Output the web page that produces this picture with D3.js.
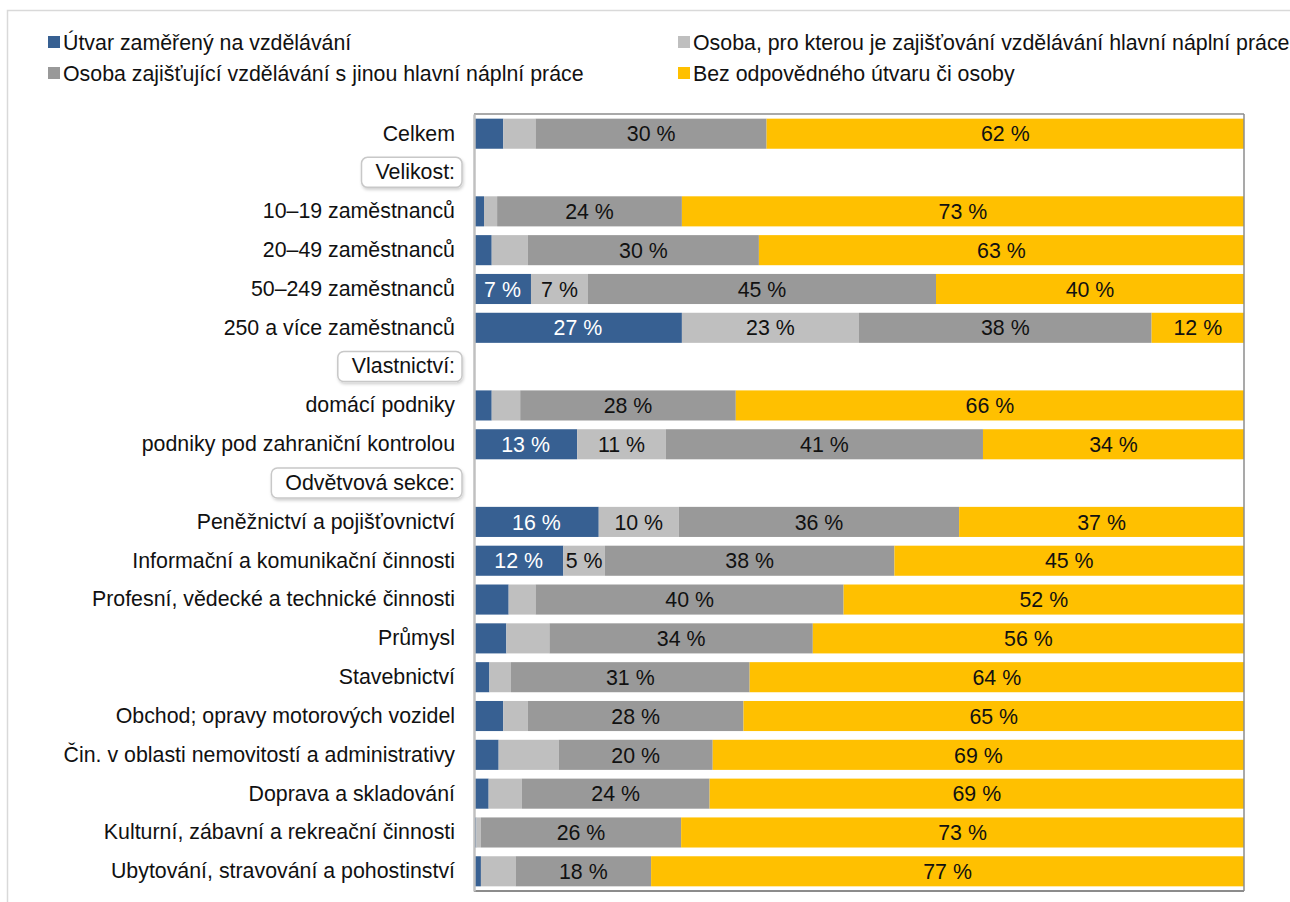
<!DOCTYPE html>
<html lang="cs">
<head>
<meta charset="utf-8">
<script src="https://cdn.jsdelivr.net/npm/d3@7"></script>
<style>
  html, body { margin: 0; padding: 0; background: #fff; }
  svg { display: block; font-family: "Liberation Sans", Arial, sans-serif; }
</style>
</head>
<body>
<svg id="chart" width="1290" height="902"></svg>
<script>
// Row labels; null values mark group header rows
const categories = [
  "Celkem",
  "Velikost:",
  "10–19 zaměstnanců",
  "20–49 zaměstnanců",
  "50–249 zaměstnanců",
  "250 a více zaměstnanců",
  "Vlastnictví:",
  "domácí podniky",
  "podniky pod zahraniční kontrolou",
  "Odvětvová sekce:",
  "Peněžnictví a pojišťovnictví",
  "Informační a komunikační činnosti",
  "Profesní, vědecké a technické činnosti",
  "Průmysl",
  "Stavebnictví",
  "Obchod; opravy motorových vozidel",
  "Čin. v oblasti nemovitostí a administrativy",
  "Doprava a skladování",
  "Kulturní, zábavní a rekreační činnosti",
  "Ubytování, stravování a pohostinství"
];

const seriesNames = [
  "Útvar zaměřený na vzdělávání",
  "Osoba, pro kterou je zajišťování vzdělávání hlavní náplní práce",
  "Osoba zajišťující vzdělávání s jinou hlavní náplní práce",
  "Bez odpovědného útvaru či osoby"
];

const utvar       = [3.8, null, 1.3, 2.3, 7.4, 27, null, 2.3, 13.4, null, 16.2, 11.6, 4.5, 4.2, 2.0, 3.8, 3.2, 1.9, 0.3, 0.9];
const osobaHlavni = [4.2, null, 1.7, 4.7, 7.4, 23, null, 3.7, 11.5, null, 10.4, 5.4, 3.5, 5.6, 2.8, 3.2, 7.8, 4.3, 0.6, 4.5];
const osobaJina   = [30, null, 24, 30, 45.2, 38, null, 28, 41.2, null, 36.4, 37.6, 40, 34.2, 31, 28, 20, 24.4, 26, 17.6];
const bez         = [62, null, 73, 63, 40, 12, null, 66, 33.9, null, 37, 45.4, 52, 56, 64.2, 65, 69, 69.4, 73.1, 77];

// Rows where every segment carries a value label (others label only the two large segments)
const fullyLabelled = [
  "50–249 zaměstnanců",
  "250 a více zaměstnanců",
  "podniky pod zahraniční kontrolou",
  "Peněžnictví a pojišťovnictví",
  "Informační a komunikační činnosti"
];

const colors = ["#376092", "#bfbfbf", "#999999", "#ffc000"];
const textColors = ["#ffffff", "#111111", "#111111", "#111111"];

const seriesValues = [utvar, osobaHlavni, osobaJina, bez];

const svg = d3.select("#chart");
const W = 1290, H = 902;
const FONT = 21.35;

const defs = svg.append("defs");
const shadow = defs.append("filter").attr("id", "boxShadow")
  .attr("x", "-20%").attr("y", "-30%").attr("width", "140%").attr("height", "170%");
shadow.append("feDropShadow").attr("dx", 1).attr("dy", 2).attr("stdDeviation", 1.5)
  .attr("flood-color", "#000").attr("flood-opacity", 0.18);

// outer chart border
svg.append("rect")
  .attr("x", 7.5).attr("y", 10.5).attr("width", W + 20).attr("height", H + 20)
  .attr("fill", "none").attr("stroke", "#d9d9d9").attr("stroke-width", 1.5);

const plot = { left: 474, right: 1244, top: 114, bottom: 891 };

const x = d3.scaleLinear().domain([0, 100]).range([plot.left, plot.right]);
const y = d3.scaleBand().domain(categories).range([plot.top, plot.bottom]).paddingInner(0.225).paddingOuter(0.12);

// stacked data
const rows = categories.map((c, i) => {
  const o = { cat: c };
  seriesValues.forEach((s, k) => { o["s" + k] = s[i]; });
  return o;
}).filter(d => d.s0 !== null);

const stack = d3.stack().keys(["s0", "s1", "s2", "s3"]);
const stacked = stack(rows);

const gBars = svg.append("g");
stacked.forEach((layer, k) => {
  gBars.append("g")
    .selectAll("rect")
    .data(layer)
    .join("rect")
    .attr("x", d => x(d[0]))
    .attr("y", d => y(d.data.cat))
    .attr("width", d => x(d[1]) - x(d[0]))
    .attr("height", y.bandwidth())
    .attr("fill", colors[k]);
});

// value labels
stacked.forEach((layer, k) => {
  const data = layer.filter(d => k >= 2 || fullyLabelled.includes(d.data.cat));
  gBars.append("g")
    .selectAll("text")
    .data(data)
    .join("text")
    .attr("x", d => (x(d[0]) + x(d[1])) / 2)
    .attr("y", d => y(d.data.cat) + y.bandwidth() / 2)
    .attr("dy", "0.36em")
    .attr("text-anchor", "middle")
    .attr("font-size", FONT)
    .attr("fill", textColors[k])
    .text(d => Math.round(d[1] - d[0]) + " %");
});

// plot frame
svg.append("line")
  .attr("x1", plot.left).attr("x2", plot.right).attr("y1", plot.top).attr("y2", plot.top)
  .attr("stroke", "#8c8c8c").attr("stroke-width", 1.5);
svg.append("line")
  .attr("x1", plot.right).attr("x2", plot.right).attr("y1", plot.top).attr("y2", plot.bottom)
  .attr("stroke", "#8c8c8c").attr("stroke-width", 1.5);
svg.append("line")
  .attr("x1", plot.left).attr("x2", plot.right).attr("y1", plot.bottom).attr("y2", plot.bottom)
  .attr("stroke", "#8c8c8c").attr("stroke-width", 2);

// category axis
const yAxis = d3.axisLeft(y).tickSize(0).tickPadding(19);
const gy = svg.append("g").attr("transform", `translate(${plot.left},0)`).call(yAxis);
gy.select(".domain").attr("stroke", "#c0c0c0").attr("stroke-width", 2.5);
gy.selectAll(".tick text")
  .attr("font-size", FONT)
  .attr("font-family", "'Liberation Sans', Arial, sans-serif")
  .attr("fill", "#111");

// boxes behind group headers
const headers = categories.filter((c, i) => utvar[i] === null);
gy.selectAll(".tick").filter(d => headers.includes(d)).each(function () {
  const t = d3.select(this).select("text");
  const bb = t.node().getBBox();
  d3.select(this).insert("rect", "text")
    .attr("x", bb.x - 14).attr("y", bb.y - 3)
    .attr("width", bb.width + 21).attr("height", bb.height + 6)
    .attr("rx", 6).attr("ry", 6)
    .attr("fill", "#fff").attr("stroke", "#c8c8c8").attr("stroke-width", 1.5)
    .attr("filter", "url(#boxShadow)");
});

// legend
const legendPos = [
  { x: 48, y: 42 }, { x: 678, y: 42 },
  { x: 48, y: 73 }, { x: 678, y: 73 }
];
const legend = svg.append("g");
seriesNames.forEach((name, k) => {
  const p = legendPos[k];
  legend.append("rect")
    .attr("x", p.x).attr("y", p.y - 6).attr("width", 12).attr("height", 12)
    .attr("fill", colors[k]);
  legend.append("text")
    .attr("x", p.x + 15).attr("y", p.y).attr("dy", "0.36em")
    .attr("font-size", FONT).attr("fill", "#111")
    .text(name);
});
</script>
</body>
</html>
